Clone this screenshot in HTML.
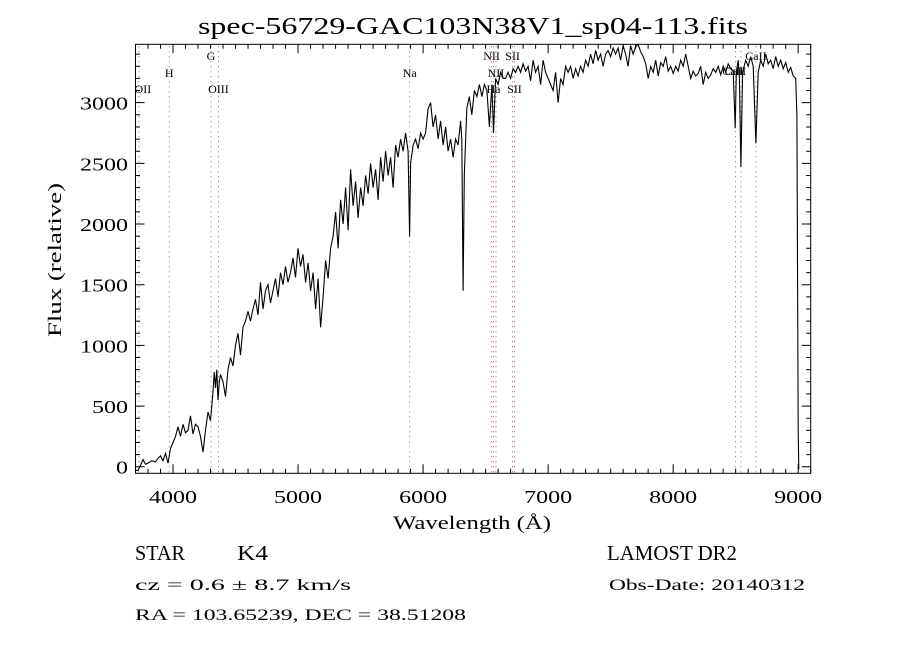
<!DOCTYPE html>
<html><head><meta charset="utf-8"><style>
body{margin:0;background:#fff;width:900px;height:650px;overflow:hidden;font-family:"Liberation Serif",serif;}
svg text{font-family:"Liberation Serif",serif;fill:#000;}
</style></head><body>
<svg id="chart" width="900" height="650" viewBox="0 0 900 650" xmlns="http://www.w3.org/2000/svg">
<rect width="900" height="650" fill="#fff"/>
<text x="198" y="34" font-size="24" textLength="550" lengthAdjust="spacingAndGlyphs">spec-56729-GAC103N38V1_sp04-113.fits</text>
<g id="lines"></g><g id="ticks"></g><g id="labels"></g>
<path id="spec" fill="none" stroke="#000" stroke-width="1.1"/>
<rect x="135.5" y="44.3" width="675.2" height="429" fill="none" stroke="#000" stroke-width="1"/>
<text x="393" y="529" font-size="19" textLength="158" lengthAdjust="spacingAndGlyphs">Wavelength (Å)</text>
<text x="-77" y="0" font-size="19" textLength="154" lengthAdjust="spacingAndGlyphs" transform="translate(61,260) rotate(-90)">Flux (relative)</text>
<text x="135" y="560" font-size="21" textLength="50" lengthAdjust="spacingAndGlyphs">STAR</text>
<text x="237" y="560" font-size="21" textLength="31" lengthAdjust="spacingAndGlyphs">K4</text>
<text x="135" y="590" font-size="16" textLength="216" lengthAdjust="spacingAndGlyphs">cz = 0.6 ± 8.7 km/s</text>
<text x="135" y="620" font-size="16" textLength="331" lengthAdjust="spacingAndGlyphs">RA = 103.65239, DEC = 38.51208</text>
<text x="607" y="560" font-size="21" textLength="130" lengthAdjust="spacingAndGlyphs">LAMOST DR2</text>
<text x="609" y="590" font-size="16" textLength="196" lengthAdjust="spacingAndGlyphs">Obs-Date: 20140312</text>
</svg>
<script>
const wavelengths=[3700,3720,3740,3760,3780,3800,3830,3860,3880,3900,3920,3940,3960,3980,4000,4020,4040,4060,4080,4100,4120,4140,4160,4180,4200,4220,4240,4260,4280,4300,4310,4320,4330,4340,4350,4360,4370,4380,4400,4420,4440,4460,4480,4500,4520,4540,4560,4580,4600,4620,4640,4660,4680,4700,4720,4740,4760,4780,4800,4820,4840,4860,4880,4900,4920,4940,4960,4980,5000,5020,5040,5060,5080,5100,5120,5140,5160,5180,5200,5220,5240,5260,5280,5300,5320,5340,5360,5380,5400,5420,5440,5460,5480,5500,5520,5540,5560,5580,5600,5620,5640,5660,5680,5700,5720,5740,5760,5780,5800,5820,5840,5860,5880,5892,5900,5920,5940,5960,5980,6000,6020,6040,6060,6080,6100,6120,6140,6160,6180,6200,6220,6240,6260,6280,6300,6310,6320,6330,6350,6370,6390,6410,6430,6450,6470,6490,6510,6530,6550,6563,6580,6600,6620,6640,6660,6680,6700,6720,6740,6760,6780,6800,6820,6840,6860,6880,6900,6920,6940,6960,6980,7000,7020,7040,7060,7080,7100,7120,7140,7160,7180,7200,7220,7240,7260,7280,7300,7320,7340,7360,7380,7400,7420,7440,7460,7480,7500,7520,7540,7560,7580,7600,7620,7640,7660,7680,7700,7720,7740,7760,7780,7800,7820,7840,7860,7880,7900,7920,7940,7960,7980,8000,8020,8040,8060,8080,8100,8120,8140,8160,8180,8200,8220,8240,8260,8280,8300,8320,8340,8360,8380,8400,8420,8440,8460,8480,8496,8505,8520,8530,8542,8555,8580,8600,8620,8640,8662,8680,8700,8720,8740,8760,8780,8800,8820,8840,8860,8880,8900,8920,8940,8960,8980,8990,8995,9000,9005];
const fluxes=[-30,-30,10,60,20,30,50,40,70,90,50,110,30,150,200,250,330,250,350,280,300,420,270,350,330,250,120,300,450,380,500,620,780,650,800,550,700,760,700,580,800,900,830,1000,1100,920,1150,1200,1280,1200,1300,1380,1250,1520,1300,1450,1500,1350,1450,1550,1400,1600,1500,1650,1520,1600,1720,1560,1800,1650,1750,1520,1680,1450,1600,1300,1550,1150,1400,1700,1550,1800,1900,2100,1800,2200,2000,2300,1950,2450,2150,2350,2050,2300,2150,2400,2250,2500,2300,2450,2200,2550,2350,2600,2400,2550,2300,2650,2550,2700,2600,2750,2600,1900,2500,2650,2700,2620,2750,2700,2750,2950,3000,2800,2900,2700,2850,2650,2800,2600,2700,2550,2700,2650,2850,2700,1450,2400,2950,3050,2900,3100,3050,3150,3050,3150,3100,2800,3150,2750,3200,3150,3250,3200,3200,3250,3200,3280,3250,3300,3250,3320,3260,3300,3180,3350,3250,3300,3150,3350,3250,3200,3150,3100,3250,3000,3200,3150,3300,3250,3300,3200,3280,3220,3300,3250,3350,3300,3400,3320,3430,3350,3400,3300,3400,3430,3380,3450,3400,3450,3350,3470,3400,3300,3470,3400,3460,3480,3420,3380,3320,3200,3300,3250,3350,3220,3330,3300,3380,3260,3300,3240,3300,3260,3350,3300,3400,3300,3200,3260,3220,3240,3300,3150,3250,3200,3230,3280,3250,3300,3230,3300,3250,3320,3280,3260,2790,3250,3350,3200,2470,3250,3350,3300,3380,3300,2665,3250,3350,3300,3400,3320,3350,3280,3380,3300,3350,3280,3330,3250,3290,3220,3200,2900,1500,300,-20];
const xTickLabels=["4000","5000","6000","7000","8000","9000"];
const yTickLabels=["0","500","1000","1500","2000","2500","3000"];
const lineNames=["OII","H","G","OIII","Na","NII","Ha","NII","SII","SII","CaII","CaII","CaII"];
const lineWaves=[3727,3970,4304,4363,5893,6548,6563,6583,6716,6731,8498,8542,8662];
const X0=135.5,X1=810.7,Y0=473.3,Y1=44.3,XMIN=3700,XMAX=9100,YMIN=-54,YMAX=3481;
const sx=v=>X0+(v-XMIN)/(XMAX-XMIN)*(X1-X0);
const sy=v=>Y0-(v-YMIN)/(YMAX-YMIN)*(Y0-Y1);
const NS="http://www.w3.org/2000/svg";
function mk(tag,attrs,parent){const e=document.createElementNS(NS,tag);for(const k in attrs)e.setAttribute(k,attrs[k]);document.getElementById(parent).appendChild(e);return e;}
let d="";
for(let i=0;i<wavelengths.length;i++){d+=(i?"L":"M")+sx(wavelengths[i]).toFixed(1)+","+sy(fluxes[i]).toFixed(1);}
document.getElementById("spec").setAttribute("d",d);
for(let w=3800;w<=9100;w+=100){const x=sx(w);const major=w%1000===0;const L=major?9:4.5;
 const t=mk("path",{d:`M${x},${Y0}v${-L}M${x},${Y1}v${L}`,stroke:"#000","stroke-width":1},"ticks");
 
 }
xTickLabels.forEach(s=>{const v=+s;const t=mk("text",{x:sx(v)-24,y:503,"font-size":18,textLength:48,lengthAdjust:"spacingAndGlyphs"},"labels");t.textContent=s;
 
 });
for(let f=0;f<=3400;f+=100){const y=sy(f);const major=f%500===0;const L=major?9:4.5;
 const t=mk("path",{d:`M${X0},${y}h${L}M${X1},${y}h${-L}`,stroke:"#000","stroke-width":1},"ticks");
 
 }
yTickLabels.forEach(s=>{const v=+s;const w=12*s.length;const t=mk("text",{x:128-w,y:sy(v)+7,"font-size":18,textLength:w,lengthAdjust:"spacingAndGlyphs"},"labels");t.textContent=s;
 
 });
const labelY=[93,77,60,93,77,60,93,77,60,93,75,75,60];
const labelDx=[4,0,0,0,0,0,0,0,0,0,0,-8,0];
lineWaves.forEach((w,i)=>{const x=sx(w);
 const l=mk("line",{x1:x,x2:x,y1:Y1+2,y2:Y0-1,stroke:"#9a4a4a","stroke-width":0.9,"stroke-dasharray":"1,4"},"lines");
 
 
 const t=mk("text",{x:x+labelDx[i],y:labelY[i],"font-size":12,"text-anchor":"middle"},"lines");t.textContent=lineNames[i];
 
 });
</script>
</body></html>
